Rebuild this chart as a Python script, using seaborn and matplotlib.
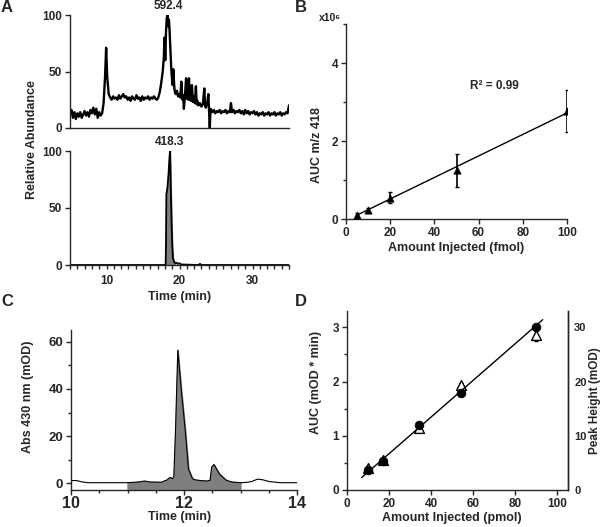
import numpy as np
import matplotlib.pyplot as plt
import pandas as pd
import seaborn as sns
from matplotlib.ticker import MultipleLocator

# ---- data ----
# Panel A, upper trace (m/z 592.4)
time_592 = [5.0, 5.2, 5.4, 5.6, 5.8, 6.0, 6.2, 6.4, 6.6, 6.8, 7.0, 7.2, 7.4, 7.6, 7.8, 8.0,
            8.2, 8.4, 8.6, 8.8, 9.0, 9.2, 9.4, 9.6, 9.8, 9.95, 10.1, 10.3, 10.5, 10.7, 10.9,
            11.1, 11.3, 11.5, 11.7, 11.9, 12.1, 12.3, 12.5, 12.7, 12.9, 13.1, 13.3, 13.5,
            13.7, 13.9, 14.1, 14.3, 14.5, 14.7, 14.9, 15.1, 15.3, 15.5, 15.7, 15.9, 16.1,
            16.3, 16.5, 16.7, 16.9, 17.1, 17.3, 17.5, 17.7, 17.85, 17.95, 18.05, 18.15,
            18.25, 18.35, 18.45, 18.55, 18.65, 18.75, 18.85, 18.95, 19.05, 19.15, 19.3,
            19.4, 19.5, 19.65, 19.8, 19.95, 20.1, 20.25, 20.4, 20.5, 20.6, 20.75, 20.9,
            21.0, 21.1, 21.2, 21.3, 21.4, 21.55, 21.7, 21.85, 21.95, 22.1, 22.25, 22.35,
            22.45, 22.6, 22.8, 23.0, 23.2, 23.4, 23.5, 23.6, 23.8, 23.95, 24.05, 24.15,
            24.25, 24.5, 24.7, 24.9, 25.1, 25.3, 25.5, 25.7, 25.9, 26.1, 26.3, 26.5, 26.7,
            26.9, 27.05, 27.2, 27.4, 27.6, 27.8, 28.0, 28.2, 28.4, 28.6, 28.8, 29.0, 29.2,
            29.4, 29.6, 29.8, 30.0, 30.2, 30.4, 30.6, 30.8, 31.0, 31.2, 31.4, 31.6, 31.8,
            32.0, 32.2, 32.4, 32.6, 32.8, 33.0, 33.2, 33.4, 33.6, 33.8, 34.0, 34.2, 34.4,
            34.6, 34.8, 35.0]
abund_592 = [12, 16, 9, 14, 8, 13, 10, 14, 9, 12, 15, 11, 14, 10, 16, 13,
             18, 12, 17, 9, 14, 11, 13, 22, 45, 71, 45, 30, 27, 25, 28,
             26, 27, 25, 29, 26, 28, 30, 27, 28, 25, 27, 24, 28,
             26, 25, 29, 26, 27, 24, 28, 25, 27, 26, 28, 25, 27,
             26, 28, 26, 25, 27, 32, 40, 50, 62, 80, 60, 85,
             97, 100, 90, 96, 85, 70, 55, 45, 38, 52, 35,
             31, 30, 33, 28, 30, 27, 41, 25, 29, 17, 28, 44,
             26, 43, 25, 44, 27, 24, 38, 23, 28, 22, 37, 21,
             24, 20, 22, 19, 21, 35, 20, 18, 22, 30, 15, 0,
             17, 14, 16, 13, 15, 14, 16, 13, 15, 14, 16, 13, 15,
             14, 22, 14, 16, 13, 15, 14, 16, 13, 15, 12, 16, 13,
             15, 12, 14, 13, 15, 12, 14, 11, 13, 12, 14, 11, 13,
             12, 14, 11, 13, 12, 14, 11, 13, 12, 14, 11, 13, 12,
             14, 13, 20]

# Panel A, lower trace (m/z 418.3)
time_418 = [5.0, 18.1, 18.15, 18.2, 18.35, 18.5, 18.6, 18.7, 18.8, 18.9, 19.0, 19.1,
            19.25, 19.4, 19.6, 19.8, 20.0, 20.2, 22.6, 22.8, 23.0, 35.0]
abund_418 = [0, 0, 20, 62, 68, 80, 92, 100, 70, 40, 18, 6,
             3, 1.5, 2, 1, 1.5, 0.5, 0, 1, 0, 0]

# Panel B, calibration (x10^6)
amount_fmol = [5, 10, 20, 50, 100]
auc_418 = [0.11, 0.22, 0.55, 1.25, 2.77]
auc_418_err = [0.04, 0.05, 0.15, 0.42, 0.53]
fit_b_x = [5, 100]
fit_b_y = [0.1, 2.72]

# Panel C, absorbance trace
time_c = [10.0, 10.1, 10.2, 10.3, 10.5, 10.8, 11.0, 11.2, 11.3, 11.4, 11.6, 11.7, 11.75,
          11.8, 11.82, 11.85, 11.89, 11.95, 12.02, 12.08, 12.15, 12.2, 12.3, 12.4, 12.46,
          12.49, 12.53, 12.63, 12.75, 12.85, 13.0, 13.1, 13.2, 13.3, 13.4, 13.5, 13.7, 14.0]
abs_c = [1.2, 1.2, 0.6, 0.3, 0.3, 0.3, 0.3, 0.6, 1.0, 0.6, 0.5, 1.5, 2.5,
         2.0, 3.0, 23, 56.5, 40, 23, 6, 2, 1.5, 1.2, 1.0, 1.3,
         7, 8, 3.9, 1.3, 0.6, 0.3, 0.4, 0.8, 1.8, 1.5, 0.8, 0.3, 0.3]

# Panel D, calibration
amount_pmol = [10, 17, 34, 54, 90]
auc_mod = [0.37, 0.54, 1.2, 1.79, 3.0]
peak_height = [4.0, 5.5, 11.4, 19.3, 28.5]
peak_height_err = [0.3, 0.3, 0.4, 0.4, 1.0]
fit_d_x = [7, 93]
fit_d_y = [0.23, 3.14]

# ---- style ----
sns.set_style('ticks')
plt.rcParams['font.family'] = ['Liberation Sans', 'DejaVu Sans']
plt.rcParams['font.weight'] = 'bold'
plt.rcParams['axes.labelweight'] = 'bold'
plt.rcParams['axes.linewidth'] = 1.0
plt.rcParams['xtick.major.size'] = 3.5
plt.rcParams['ytick.major.size'] = 3.5
plt.rcParams['xtick.minor.size'] = 2
plt.rcParams['ytick.minor.size'] = 2
plt.rcParams['xtick.labelsize'] = 8.5
plt.rcParams['ytick.labelsize'] = 8.5
plt.rcParams['axes.labelsize'] = 9

fig = plt.figure(figsize=(6, 5.27), dpi=100)
W, H = 600, 527


def px_axes(left, top, right, bottom):
    return fig.add_axes([left / W, 1 - bottom / H, (right - left) / W, (bottom - top) / H])


def clean(ax, right=False):
    sns.despine(ax=ax, right=not right, top=True)
    ax.tick_params(direction='out', width=1, pad=2)
    ax.tick_params(which='minor', direction='out', width=1)


# ---- Panel A top ----
axA1 = px_axes(70, 15, 289, 128)
sns.lineplot(x=time_592, y=abund_592, ax=axA1, color='black', linewidth=1.7, estimator=None)
axA1.set_xlim(5, 35)
axA1.set_ylim(0, 100)
axA1.set_yticks([0, 50, 100])
axA1.set_xticks([])
clean(axA1)
axA1.text(18.4, 103, '592.4', ha='center', va='bottom', fontsize=8.5, fontweight='bold')

# ---- Panel A bottom ----
axA2 = px_axes(70, 151, 289, 265)
sns.lineplot(x=time_418, y=abund_418, ax=axA2, color='black', linewidth=1.3, estimator=None)
t418 = np.array(time_418)
a418 = np.array(abund_418)
mask = (t418 >= 18.1) & (t418 <= 19.4)
axA2.fill_between(t418[mask], a418[mask], 0, color='#7f7f7f')
axA2.set_xlim(5, 35)
axA2.set_ylim(0, 100)
axA2.set_yticks([0, 50, 100])
axA2.set_xticks([10, 20, 30])
axA2.xaxis.set_minor_locator(MultipleLocator(1))
clean(axA2)
axA2.tick_params(axis='x', which='both', length=3, pad=4)
axA2.text(18.6, 103, '418.3', ha='center', va='bottom', fontsize=8.5, fontweight='bold')

fig.text(32 / W, 1 - 140 / H, 'Relative Abundance', rotation=90, ha='center', va='center',
         fontsize=9, fontweight='bold')
fig.text(180 / W, 1 - 297 / H, 'Time (min)', ha='center', va='center', fontsize=9,
         fontweight='bold')

# ---- Panel B ----
axB = px_axes(346, 24, 567, 219)
sns.lineplot(x=fit_b_x, y=fit_b_y, ax=axB, color='black', linewidth=1.0)
axB.errorbar(amount_fmol, auc_418, yerr=auc_418_err, fmt='none', ecolor='black',
             elinewidth=1.2, capsize=1.5)
sns.scatterplot(x=amount_fmol, y=auc_418, ax=axB, marker='^', color='black', s=28,
                edgecolor='black', zorder=5)
axB.set_xlim(0, 100)
axB.set_ylim(0, 5)
axB.set_xticks([0, 20, 40, 60, 80, 100])
axB.set_yticks([0, 2, 4])
axB.yaxis.set_minor_locator(MultipleLocator(1))
clean(axB)
axB.set_xlabel('Amount Injected (fmol)')
axB.xaxis.set_label_coords(0.5, -0.12)
axB.set_ylabel('AUC m/z 418')
axB.yaxis.set_label_coords(-0.104, 0.38)
axB.text(67, 3.4, 'R² = 0.99', ha='center', va='center', fontsize=8.5, fontweight='bold')
fig.text(330 / W, 1 - 18 / H, 'x10⁶', ha='center', va='center', fontsize=7.5,
         fontweight='bold')

# ---- Panel C ----
axC = px_axes(71, 330, 297, 490)
sns.lineplot(x=time_c, y=abs_c, ax=axC, color='black', linewidth=0.8, estimator=None)
tc = np.array(time_c)
yc = np.array(abs_c)
axC.set_ylim(-2.8, 65)
fill_c = (tc >= 11.0) & (tc <= 13.0)
axC.fill_between(tc[fill_c], yc[fill_c], -2.8, color='#7f7f7f')
axC.set_xlim(10, 14)
axC.set_xticks([10, 12, 14])
axC.xaxis.set_minor_locator(MultipleLocator(0.5))
axC.set_yticks([0, 20, 40, 60])
axC.yaxis.set_minor_locator(MultipleLocator(10))
clean(axC)
axC.tick_params(axis='x', labelsize=11.5, pad=1)
axC.tick_params(axis='y', labelsize=9.5)
axC.set_xlabel('Time (min)')
axC.xaxis.set_label_coords(0.48, -0.13)
axC.set_ylabel('Abs 430 nm (mOD)')
axC.yaxis.set_label_coords(-0.164, 0.58)

# ---- Panel D ----
axD = px_axes(347, 311, 568, 490)
axD2 = axD.twinx()
# circles and fit line sit above the open triangles
axD.set_zorder(axD2.get_zorder() + 1)
axD.patch.set_visible(False)

sns.lineplot(x=fit_d_x, y=fit_d_y, ax=axD, color='black', linewidth=1.0)
sns.scatterplot(x=amount_pmol, y=auc_mod, ax=axD, marker='o', color='black', s=40,
                edgecolor='black', zorder=5)
axD.set_xlim(0, 105)
axD.set_ylim(0, 3.3)
axD.set_xticks([0, 20, 40, 60, 80, 100])
axD.set_yticks([0, 1, 2, 3])
axD.yaxis.set_minor_locator(MultipleLocator(0.5))
clean(axD, right=True)
axD.set_xlabel('Amount Injected (pmol)')
axD.xaxis.set_label_coords(0.475, -0.123)
axD.set_ylabel('AUC (mOD * min)')
axD.yaxis.set_label_coords(-0.113, 0.6)

axD2.errorbar(amount_pmol, peak_height, yerr=peak_height_err, fmt='none', ecolor='black',
              elinewidth=1.0, capsize=1.5)
sns.scatterplot(x=amount_pmol, y=peak_height, ax=axD2, marker='^', facecolor='white',
                edgecolor='black', linewidth=1.0, s=50, zorder=6)
axD2.set_ylim(0, 33)
axD2.set_yticks([0, 10, 20, 30])
axD2.yaxis.set_minor_locator(MultipleLocator(5))
sns.despine(ax=axD2, top=True, right=False, left=True, bottom=True)
axD2.tick_params(direction='out', width=1, pad=1, labelsize=8)
axD2.tick_params(which='minor', direction='out', width=1)
axD2.set_ylabel('Peak Height (mOD)', fontweight='bold', fontsize=8.5)
axD2.yaxis.set_label_coords(1.097, 0.5)

# ---- panel letters ----
for lx, ly, letter in [(7, 8, 'A'), (301, 8, 'B'), (7, 302, 'C'), (301, 302, 'D')]:
    fig.text(lx / W, 1 - ly / H, letter, ha='center', va='center', fontsize=12,
             fontweight='bold')

fig.savefig('out.png', dpi=100)
